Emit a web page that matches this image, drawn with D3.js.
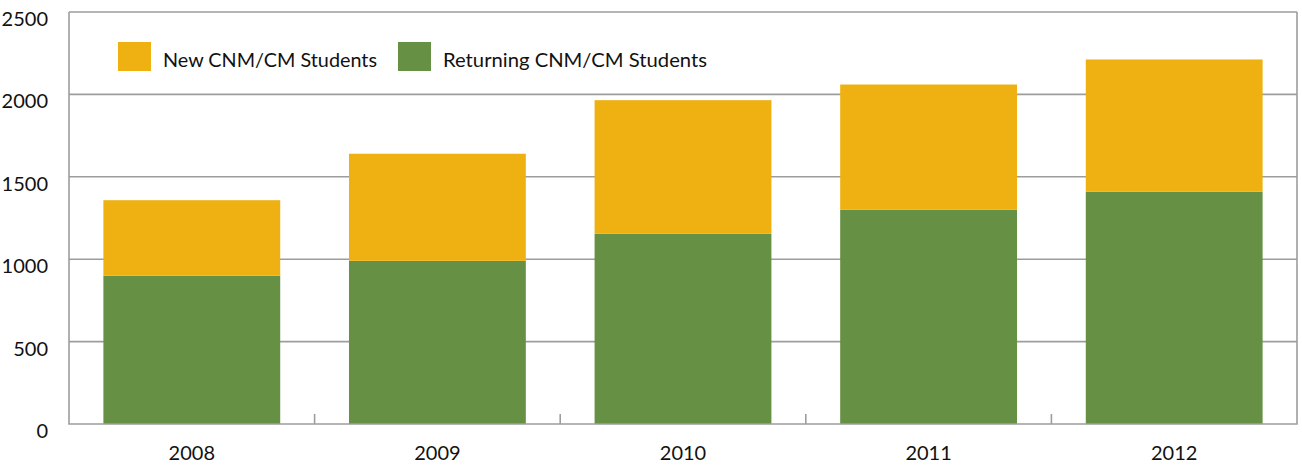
<!DOCTYPE html>
<html>
<head>
<meta charset="utf-8">
<script src="https://d3js.org/d3.v7.min.js"></script>
<style>
  body { margin: 0; background: #fff; }
  svg text { font-family: Lato, "Open Sans", sans-serif; fill: #111; }
</style>
</head>
<body>
<script>
// chart values
var years = ["2008", "2009", "2010", "2011", "2012"];
var returning = [900, 990, 1155, 1300, 1410];
var newStudents = [458, 650, 810, 760, 802];
var yTicks = [0, 500, 1000, 1500, 2000, 2500];
var seriesNames = ["New CNM/CM Students", "Returning CNM/CM Students"];

var width = 1302, height = 465;
var margin = {top: 12, right: 5, bottom: 41, left: 69};

var svg = d3.select("body").append("svg")
  .attr("width", width)
  .attr("height", height);

var x = d3.scaleBand()
  .domain(years)
  .range([margin.left, width - margin.right])
  .paddingInner(0.28)
  .paddingOuter(0.14);

var y = d3.scaleLinear()
  .domain([0, 2500])
  .range([height - margin.bottom, margin.top]);

// gridlines
svg.append("g")
  .selectAll("line")
  .data(yTicks.slice(1))
  .enter().append("line")
  .attr("x1", margin.left)
  .attr("x2", width - margin.right)
  .attr("y1", function(d) { return y(d); })
  .attr("y2", function(d) { return y(d); })
  .attr("stroke", "#9d9d9d")
  .attr("stroke-width", 1.6);

// stacked data
var rows = years.map(function(yr, i) {
  return {year: yr, returning: returning[i], fresh: newStudents[i]};
});
var stack = d3.stack().keys(["returning", "fresh"]);
var layers = stack(rows);
var colors = {returning: "#669145", fresh: "#efb112"};

svg.append("g")
  .selectAll("g")
  .data(layers)
  .enter().append("g")
  .attr("fill", function(d) { return colors[d.key]; })
  .selectAll("rect")
  .data(function(d) { return d; })
  .enter().append("rect")
  .attr("x", function(d) { return x(d.data.year); })
  .attr("width", x.bandwidth())
  .attr("y", function(d) { return y(d[1]); })
  .attr("height", function(d) { return y(d[0]) - y(d[1]); });

// frame: left, right, bottom
var x0 = margin.left, x1 = width - margin.right;
var yb = y(0), yt = y(2500);
svg.append("path")
  .attr("d", "M" + x0 + "," + yt + "V" + yb + "H" + x1 + "V" + yt)
  .attr("fill", "none")
  .attr("stroke", "#9d9d9d")
  .attr("stroke-width", 1.6);

// x tick marks between categories
var step = x.step();
svg.append("g")
  .selectAll("line")
  .data(years.slice(1))
  .enter().append("line")
  .attr("x1", function(d) { return x(d) - step * x.paddingInner() / 2; })
  .attr("x2", function(d) { return x(d) - step * x.paddingInner() / 2; })
  .attr("y1", yb)
  .attr("y2", yb - 10)
  .attr("stroke", "#9d9d9d")
  .attr("stroke-width", 1.6);

// y labels
svg.append("g")
  .selectAll("text")
  .data(yTicks)
  .enter().append("text")
  .attr("x", 48)
  .attr("y", function(d) { return y(d) + 14; })
  .attr("text-anchor", "end")
  .style("font-size", "20px")
  .text(function(d) { return d; });

// x labels
svg.append("g")
  .selectAll("text")
  .data(years)
  .enter().append("text")
  .attr("x", function(d) { return x(d) + x.bandwidth() / 2; })
  .attr("y", 460)
  .attr("text-anchor", "middle")
  .style("font-size", "20px")
  .text(function(d) { return d; });

// legend
var legend = [
  {name: seriesNames[0], color: colors.fresh, x: 118, len: 214},
  {name: seriesNames[1], color: colors.returning, x: 398, len: 264}
];
var lg = svg.append("g").selectAll("g")
  .data(legend)
  .enter().append("g");
lg.append("rect")
  .attr("x", function(d) { return d.x; })
  .attr("y", 42)
  .attr("width", 33)
  .attr("height", 29)
  .attr("fill", function(d) { return d.color; });
lg.append("text")
  .attr("x", function(d) { return d.x + 45; })
  .attr("y", 67)
  .style("font-size", "20px")
  .attr("textLength", function(d) { return d.len; })
  .attr("lengthAdjust", "spacingAndGlyphs")
  .text(function(d) { return d.name; });
</script>
</body>
</html>
